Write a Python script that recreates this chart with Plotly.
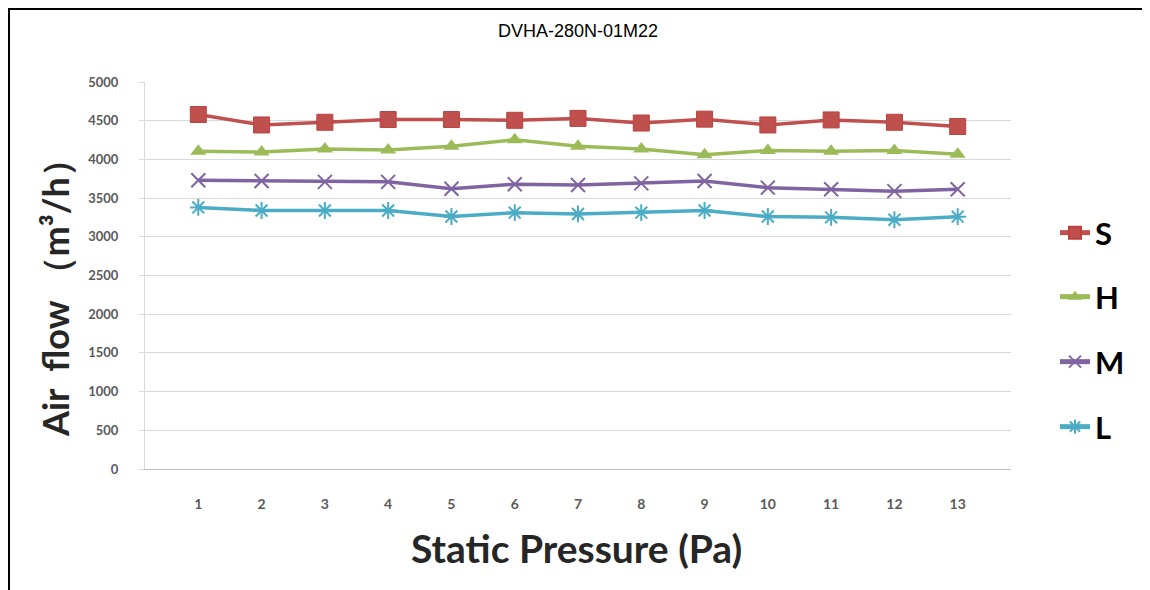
import plotly.graph_objects as go

categories = [str(i) for i in range(1, 14)]
S = [4580, 4445, 4480, 4515, 4515, 4505, 4530, 4470, 4520, 4445, 4510, 4480, 4425]
H = [4105, 4095, 4135, 4120, 4170, 4255, 4170, 4135, 4060, 4115, 4105, 4115, 4065]
M = [3730, 3722, 3710, 3710, 3620, 3680, 3670, 3690, 3720, 3635, 3615, 3590, 3615]
L = [3380, 3340, 3340, 3340, 3262, 3312, 3295, 3312, 3340, 3262, 3252, 3220, 3260]
y_ticks = list(range(0, 5001, 500))

OFF = 8  # page offset of the figure in the browser
W, Hh = 1150 - OFF, 590 - OFF
ml, mt = 145 - OFF, 82 - OFF
mr = W - (1011 - OFF)
mb = Hh - (469 - OFF)
pw, ph = W - ml - mr, Hh - mt - mb

def px_x(x):
    return (x - OFF - ml) / pw

def px_y(y):
    return (Hh - mb - (y - OFF)) / ph

series = [
    ("S", S, "#C0504D", dict(symbol="square", size=16, color="#C0504D", line=dict(color="#B8433F", width=1))),
    ("H", H, "#9BBB59", dict(symbol="triangle-up", size=14, color="#9BBB59")),
    ("M", M, "#8064A2", dict(symbol="x-thin-open", size=14, color="#8064A2", line=dict(color="#8064A2", width=2))),
    ("L", L, "#4BACC6", dict(symbol="asterisk-open", size=14, color="#4BACC6", line=dict(color="#4BACC6", width=2))),
]

legend_names = ["legend", "legend2", "legend3", "legend4"]
legend_y = [233, 297, 362, 427]

fig = go.Figure()
for (name, vals, col, mk), lg in zip(series, legend_names):
    fig.add_trace(go.Scatter(
        x=categories, y=vals, name=name, mode="lines+markers",
        line=dict(color=col, width=3.5), marker=mk, legend=lg,
    ))

legend_common = dict(
    xanchor="left", yanchor="middle", bgcolor="rgba(0,0,0,0)",
    font=dict(family="Lato", size=31, color="#000000", weight="bold"),
    itemsizing="constant",
)
layout_legends = {}
for lg, ly in zip(legend_names, legend_y):
    layout_legends[lg] = dict(x=px_x(1055), y=px_y(ly), **legend_common)

tick_font = dict(family="Lato", size=13, color="#595959", weight="bold")

fig.update_layout(
    width=W, height=Hh,
    margin=dict(l=ml, r=mr, t=mt, b=mb),
    paper_bgcolor="white", plot_bgcolor="white",
    showlegend=True,
    **layout_legends,
    xaxis=dict(
        type="category", showgrid=False, showline=True, linecolor="#BFBFBF", linewidth=1,
        ticks="", tickfont=dict(tick_font, size=14),
        ticklabelstandoff=22,
    ),
    yaxis=dict(
        range=[0, 5000], tickvals=y_ticks, showgrid=True, gridcolor="#D9D9D9", gridwidth=1,
        showline=True, linecolor="#D9D9D9", linewidth=1, zeroline=False,
        ticks="outside", ticklen=5, tickcolor="#D9D9D9",
        tickfont=tick_font,
        ticklabelstandoff=18,
    ),
    annotations=[
        dict(text="DVHA-280N-01M22", xref="paper", yref="paper", x=px_x(578), y=px_y(31),
             xanchor="center", yanchor="middle", showarrow=False,
             font=dict(family="Liberation Sans", size=18, color="#000000")),
        dict(text="Static Pressure (Pa)", xref="paper", yref="paper", x=px_x(576), y=px_y(548),
             xanchor="center", yanchor="middle", showarrow=False,
             font=dict(family="Lato", size=39, color="#262626", weight="bold")),
        dict(text="Air  flow （m³/h）", xref="paper", yref="paper", x=px_x(55), y=px_y(289),
             xanchor="center", yanchor="middle", showarrow=False, textangle=-90,
             font=dict(family="Lato", size=36, color="#262626", weight="bold")),
    ],
    shapes=[
        dict(type="line", xref="paper", yref="paper", x0=px_x(8), x1=px_x(1150), y0=px_y(9), y1=px_y(9),
             line=dict(color="#000000", width=2)),
        dict(type="line", xref="paper", yref="paper", x0=px_x(9), x1=px_x(9), y0=px_y(8), y1=px_y(590),
             line=dict(color="#000000", width=2)),
    ],
)

fig.write_html("out.html")
